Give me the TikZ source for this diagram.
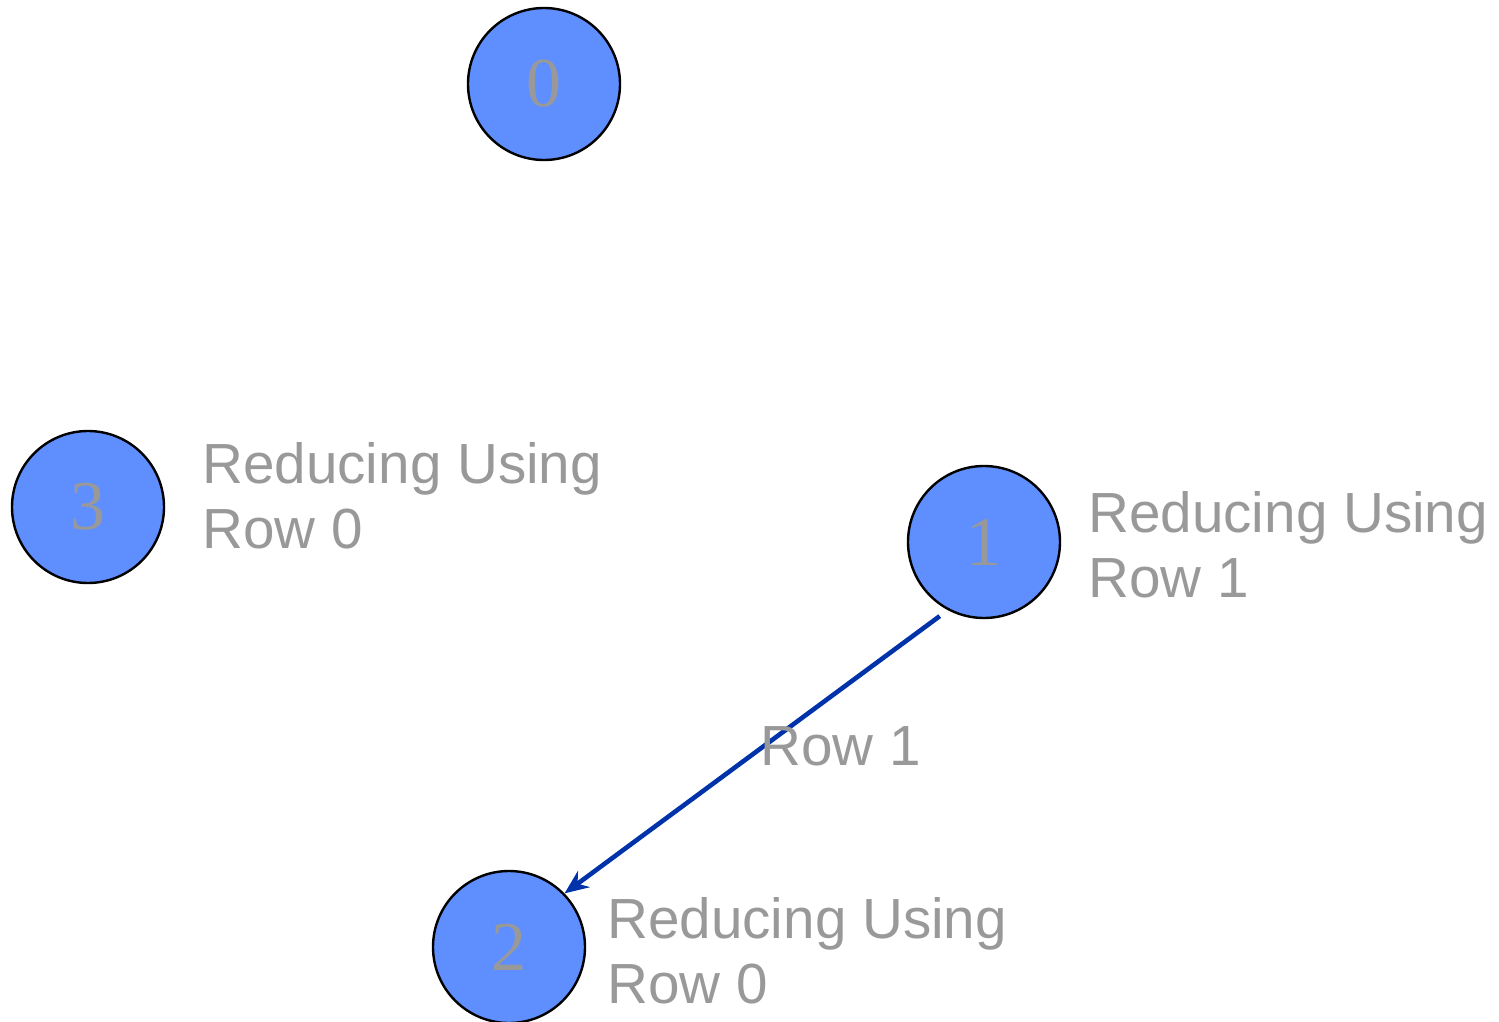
\documentclass[tikz,border=0pt]{standalone}
\usepackage{fontspec}
\setmainfont{Liberation Sans}
\newfontfamily\digitfont{Liberation Serif}
\usetikzlibrary{arrows.meta}
\definecolor{nodefill}{HTML}{5F8FFF}
\definecolor{labelgray}{HTML}{999999}
\definecolor{edgeblue}{HTML}{0033AA}
\tikzset{
  vertex/.style={circle, draw=black, line width=1.2pt, fill=nodefill,
    minimum size=76pt, inner sep=0pt, text=labelgray,
    font=\digitfont\fontsize{35}{35}\selectfont},
  % base anchor sits on the last line of a multi-line note
  note/.style={anchor=base west, inner sep=0pt, align=left, text=labelgray,
    font=\fontsize{28.3}{32.5}\selectfont},
  link/.style={draw=edgeblue, line width=2.3pt, shorten <=5pt,
    -{Stealth[length=12pt,width=10pt]}}
}
\begin{document}
\begin{tikzpicture}[x=0.5pt, y=-0.5pt]
  \useasboundingbox (0,0) rectangle (1499,1022);
  \node[vertex] (n0) at (544,84) {0};
  \node[vertex] (n1) at (984,542) {1};
  \node[vertex] (n2) at (509,947) {2};
  \node[vertex] (n3) at (88,507) {3};
  \node[note] (l3) at (202,548) {Reducing Using\\Row 0};
  \node[note] (l1) at (1088,597) {Reducing Using\\Row 1};
  \node[note] (l2) at (607,1003) {Reducing Using\\Row 0};
  \draw[link] (n1.242) -- (n2.44);
  \node[note] (e12) at (760,765) {Row 1};
\end{tikzpicture}
\end{document}
